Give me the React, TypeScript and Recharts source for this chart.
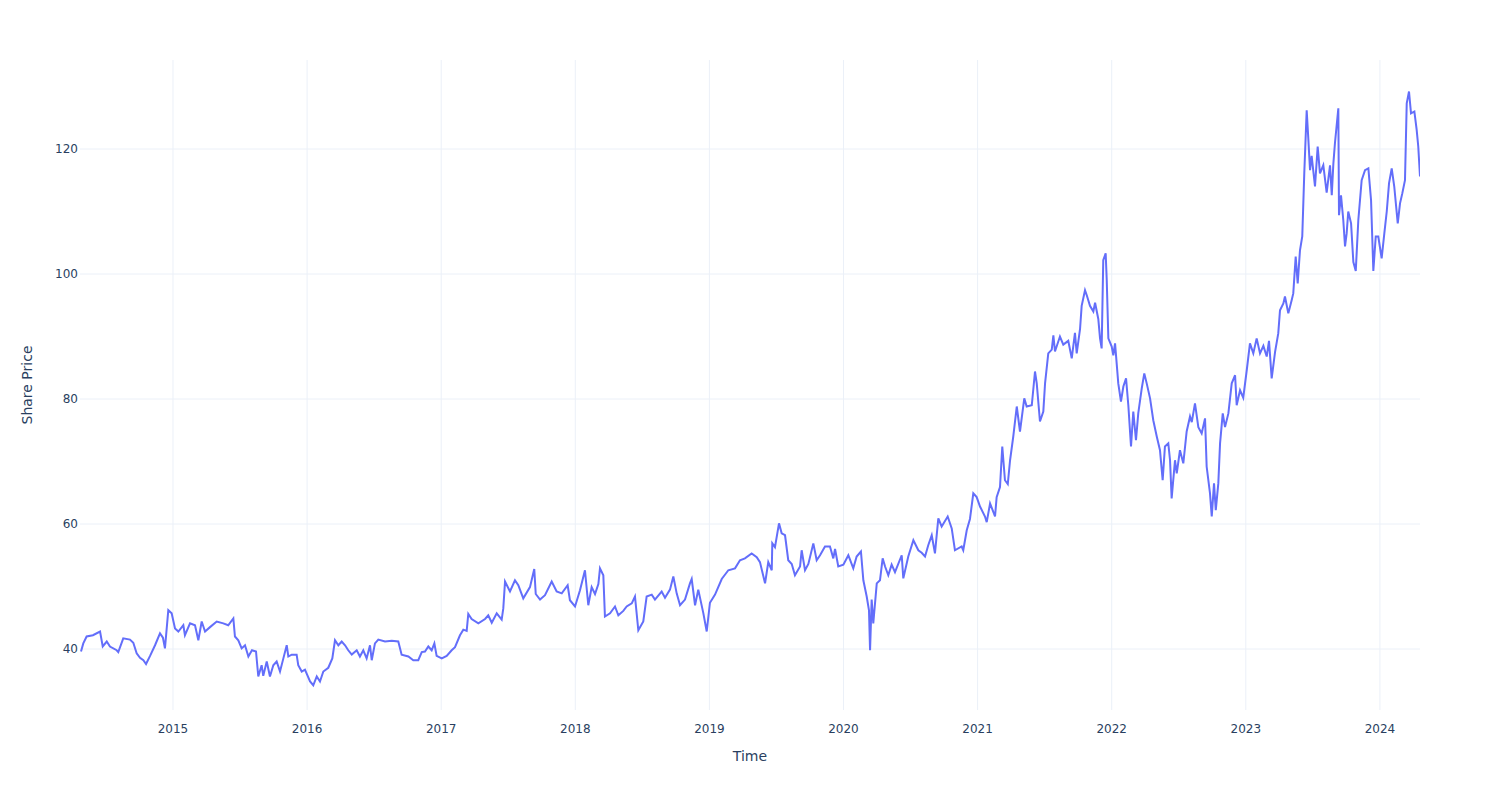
import React from "react";
import { LineChart, Line, XAxis, YAxis, CartesianGrid } from "recharts";

// Time in decimal years
const timeYears: number[] = [
  2014.314, 2014.331, 2014.356, 2014.403, 2014.456, 2014.476, 2014.506, 2014.530, 2014.580, 2014.592,
  2014.629, 2014.679, 2014.704, 2014.729, 2014.754, 2014.779, 2014.799, 2014.829, 2014.866, 2014.903,
  2014.925, 2014.940, 2014.965, 2014.990, 2015.015, 2015.040, 2015.077, 2015.089, 2015.127, 2015.164,
  2015.189, 2015.214, 2015.239, 2015.276, 2015.326, 2015.375, 2015.412, 2015.450, 2015.462, 2015.487,
  2015.512, 2015.537, 2015.562, 2015.589, 2015.619, 2015.636, 2015.661, 2015.673, 2015.699, 2015.723,
  2015.748, 2015.773, 2015.798, 2015.823, 2015.848, 2015.860, 2015.885, 2015.922, 2015.934, 2015.960,
  2015.984, 2016.022, 2016.046, 2016.072, 2016.096, 2016.121, 2016.158, 2016.188, 2016.208, 2016.233,
  2016.258, 2016.283, 2016.307, 2016.333, 2016.370, 2016.394, 2016.419, 2016.444, 2016.469, 2016.482,
  2016.506, 2016.531, 2016.581, 2016.631, 2016.680, 2016.705, 2016.755, 2016.792, 2016.829, 2016.855,
  2016.879, 2016.904, 2016.929, 2016.949, 2016.966, 2017.004, 2017.041, 2017.078, 2017.103, 2017.140,
  2017.165, 2017.190, 2017.202, 2017.227, 2017.277, 2017.327, 2017.351, 2017.377, 2017.414, 2017.451,
  2017.463, 2017.476, 2017.513, 2017.550, 2017.575, 2017.612, 2017.662, 2017.694, 2017.705, 2017.737,
  2017.774, 2017.824, 2017.861, 2017.899, 2017.943, 2017.960, 2017.998, 2018.035, 2018.072, 2018.097,
  2018.122, 2018.147, 2018.172, 2018.184, 2018.209, 2018.221, 2018.259, 2018.296, 2018.321, 2018.358,
  2018.383, 2018.421, 2018.445, 2018.470, 2018.507, 2018.532, 2018.570, 2018.594, 2018.644, 2018.669,
  2018.706, 2018.731, 2018.756, 2018.781, 2018.818, 2018.855, 2018.868, 2018.893, 2018.917, 2018.955,
  2018.980, 2019.004, 2019.042, 2019.092, 2019.141, 2019.191, 2019.228, 2019.265, 2019.315, 2019.353,
  2019.377, 2019.415, 2019.439, 2019.465, 2019.469, 2019.489, 2019.519, 2019.539, 2019.564, 2019.588,
  2019.614, 2019.638, 2019.676, 2019.688, 2019.713, 2019.738, 2019.775, 2019.800, 2019.825, 2019.862,
  2019.899, 2019.924, 2019.937, 2019.961, 2019.999, 2020.036, 2020.073, 2020.098, 2020.130, 2020.148,
  2020.173, 2020.190, 2020.198, 2020.210, 2020.222, 2020.248, 2020.272, 2020.292, 2020.310, 2020.334,
  2020.359, 2020.384, 2020.434, 2020.446, 2020.483, 2020.521, 2020.558, 2020.583, 2020.608, 2020.632,
  2020.658, 2020.682, 2020.707, 2020.732, 2020.777, 2020.807, 2020.831, 2020.881, 2020.893, 2020.919,
  2020.943, 2020.968, 2020.993, 2021.018, 2021.055, 2021.068, 2021.093, 2021.130, 2021.142, 2021.167,
  2021.184, 2021.204, 2021.225, 2021.242, 2021.266, 2021.292, 2021.316, 2021.348, 2021.366, 2021.404,
  2021.428, 2021.441, 2021.465, 2021.490, 2021.503, 2021.527, 2021.553, 2021.565, 2021.577, 2021.614,
  2021.639, 2021.676, 2021.702, 2021.726, 2021.739, 2021.764, 2021.776, 2021.801, 2021.814, 2021.838,
  2021.863, 2021.876, 2021.900, 2021.913, 2021.925, 2021.937, 2021.955, 2021.963, 2021.975, 2022.000,
  2022.012, 2022.025, 2022.049, 2022.069, 2022.087, 2022.107, 2022.124, 2022.136, 2022.144, 2022.161,
  2022.181, 2022.198, 2022.224, 2022.243, 2022.261, 2022.286, 2022.310, 2022.336, 2022.360, 2022.380,
  2022.397, 2022.422, 2022.435, 2022.447, 2022.472, 2022.485, 2022.509, 2022.534, 2022.559, 2022.584,
  2022.597, 2022.621, 2022.646, 2022.671, 2022.696, 2022.708, 2022.733, 2022.746, 2022.763, 2022.776,
  2022.795, 2022.808, 2022.828, 2022.845, 2022.870, 2022.895, 2022.920, 2022.932, 2022.957, 2022.981,
  2023.007, 2023.031, 2023.056, 2023.081, 2023.106, 2023.131, 2023.156, 2023.173, 2023.193, 2023.218,
  2023.242, 2023.255, 2023.280, 2023.292, 2023.317, 2023.342, 2023.354, 2023.372, 2023.387, 2023.404,
  2023.421, 2023.436, 2023.454, 2023.466, 2023.479, 2023.491, 2023.516, 2023.536, 2023.553, 2023.578,
  2023.603, 2023.628, 2023.641, 2023.653, 2023.665, 2023.690, 2023.695, 2023.710, 2023.727, 2023.740,
  2023.752, 2023.764, 2023.785, 2023.802, 2023.820, 2023.839, 2023.864, 2023.889, 2023.914, 2023.934,
  2023.951, 2023.969, 2023.988, 2024.013, 2024.033, 2024.051, 2024.068, 2024.088, 2024.107, 2024.133,
  2024.150, 2024.167, 2024.187, 2024.200, 2024.217, 2024.232, 2024.257, 2024.274, 2024.286, 2024.299,
];

// Share price values
const sharePrice: number[] = [
  39.6, 40.9, 42.0, 42.2, 42.8, 40.4, 41.2, 40.4, 39.8, 39.5,
  41.7, 41.5, 41.0, 39.3, 38.6, 38.2, 37.6, 38.9, 40.6, 42.5,
  41.8, 40.1, 46.2, 45.7, 43.3, 42.8, 43.8, 42.2, 44.1, 43.8,
  41.4, 44.4, 42.8, 43.5, 44.4, 44.1, 43.8, 44.9, 42.0, 41.4,
  40.1, 40.6, 38.8, 39.8, 39.6, 35.6, 37.4, 35.7, 38.0, 35.6,
  37.4, 38.0, 36.4, 38.5, 40.6, 38.8, 39.1, 39.1, 37.4, 36.4,
  36.7, 34.8, 34.2, 35.6, 34.8, 36.4, 37.0, 38.5, 41.4, 40.6,
  41.2, 40.6, 39.8, 39.1, 39.8, 38.8, 39.8, 38.5, 40.6, 38.2,
  40.9, 41.5, 41.2, 41.3, 41.2, 39.1, 38.8, 38.2, 38.2, 39.5,
  39.6, 40.4, 39.8, 40.9, 38.9, 38.5, 38.9, 39.8, 40.3, 42.2,
  43.1, 42.9, 45.6, 44.8, 44.1, 44.8, 45.4, 44.2, 45.7, 44.7,
  46.5, 50.8, 49.2, 51.0, 50.2, 48.1, 49.9, 52.8, 48.8, 47.9,
  48.6, 50.8, 49.2, 48.9, 50.2, 47.8, 46.8, 49.4, 52.6, 47.0,
  49.9, 48.8, 50.4, 52.9, 51.8, 45.2, 45.7, 46.8, 45.4, 46.1,
  46.8, 47.3, 48.4, 43.0, 44.4, 48.4, 48.7, 47.9, 49.2, 48.2,
  49.5, 51.6, 48.9, 47.0, 47.9, 50.5, 51.2, 47.0, 49.5, 45.7,
  42.8, 47.4, 48.7, 51.2, 52.6, 52.9, 54.2, 54.5, 55.3, 54.7,
  53.9, 50.5, 53.9, 52.6, 56.9, 56.3, 60.1, 58.5, 58.2, 54.2,
  53.6, 51.8, 53.2, 55.8, 52.6, 53.6, 56.9, 54.2, 55.0, 56.4,
  56.4, 54.5, 56.0, 53.2, 53.5, 55.0, 52.9, 54.8, 55.6, 51.0,
  48.4, 46.2, 39.8, 47.9, 44.1, 50.5, 51.0, 54.5, 53.2, 51.8,
  53.5, 52.3, 55.0, 51.3, 54.8, 57.4, 55.8, 55.4, 54.8, 56.6,
  58.2, 55.3, 60.9, 59.6, 61.2, 59.3, 55.8, 56.4, 55.8, 59.0,
  60.8, 64.9, 64.3, 62.8, 61.2, 60.3, 63.3, 61.2, 64.3, 65.9,
  72.4, 67.0, 66.4, 70.2, 74.0, 78.8, 74.8, 80.1, 78.8, 79.0,
  84.4, 82.5, 76.4, 78.0, 82.5, 87.3, 87.9, 90.2, 87.6, 90.0,
  88.7, 89.3, 86.5, 90.6, 87.3, 91.2, 94.9, 97.4, 96.6, 94.9,
  94.0, 95.4, 92.8, 89.7, 88.1, 102.2, 103.3, 99.0, 89.7, 88.4,
  87.0, 88.9, 82.5, 79.6, 82.0, 83.3, 79.0, 75.0, 72.4, 78.0,
  73.4, 77.7, 81.7, 84.1, 82.5, 80.1, 76.6, 74.0, 71.8, 67.0,
  72.4, 72.9, 70.2, 64.1, 70.2, 68.1, 71.8, 69.7, 74.8, 77.2,
  76.3, 79.3, 75.5, 74.5, 76.9, 69.2, 64.9, 61.2, 66.5, 62.2,
  66.5, 72.9, 77.7, 75.5, 77.7, 82.5, 83.8, 79.0, 81.4, 80.2,
  84.6, 88.9, 87.3, 89.7, 87.3, 88.5, 86.8, 89.3, 83.3, 87.5,
  90.5, 94.2, 95.3, 96.4, 93.7, 95.8, 96.9, 102.8, 98.5, 103.8,
  106.0, 116.1, 126.2, 121.7, 116.6, 118.9, 114.0, 120.4, 116.1, 117.4,
  113.0, 117.4, 112.6, 117.7, 121.0, 126.5, 109.4, 112.6, 108.6, 104.4,
  106.5, 110.0, 108.1, 101.9, 100.5, 108.6, 115.0, 116.6, 116.9, 111.8,
  100.5, 106.0, 106.0, 102.5, 106.5, 110.0, 114.5, 116.9, 114.0, 108.1,
  111.3, 112.9, 115.0, 127.3, 129.2, 125.7, 126.0, 123.1, 120.4, 115.6,
];

const yearTicks: number[] = [2015, 2016, 2017, 2018, 2019, 2020, 2021, 2022, 2023, 2024];
const priceTicks: number[] = [40, 60, 80, 100, 120];
const xDomain: [number, number] = [2014.3065, 2024.299];
const yDomain: [number, number] = [30.24, 134.24];

const data = timeYears.map((t, i) => ({ t, price: sharePrice[i] }));

const FONT = '"DejaVu Sans", Verdana, sans-serif';
const TEXT = "#2a3f5f";

// Grid lines placed at tick values, mapped linearly through the axis domains
const hGrid = (p: any) => {
  const o = p.offset;
  return priceTicks.map((v) => o.top + ((yDomain[1] - v) / (yDomain[1] - yDomain[0])) * o.height);
};
const vGrid = (p: any) => {
  const o = p.offset;
  return yearTicks.map((v) => o.left + ((v - xDomain[0]) / (xDomain[1] - xDomain[0])) * o.width);
};

export default function App() {
  return (
    <div style={{ position: "absolute", left: 0, top: 0, width: 1500, height: 800, background: "#fff" }}>
      <LineChart width={1500} height={800} data={data} margin={{ top: 60, right: 80, bottom: 0, left: 0 }}>
        <CartesianGrid
          stroke="#ebf0f8"
          strokeWidth={1}
          horizontalCoordinatesGenerator={hGrid}
          verticalCoordinatesGenerator={vGrid}
        />
        <XAxis
          type="number"
          dataKey="t"
          domain={xDomain}
          allowDataOverflow
          ticks={yearTicks}
          tickFormatter={(v: number) => String(Math.round(v))}
          height={90}
          axisLine={false}
          tickLine={false}
          tickSize={0}
          tickMargin={14}
          tick={{ fill: TEXT, fontSize: 12, fontFamily: FONT }}
          label={(props: any) => {
            const vb = props.viewBox || { x: 80, width: 1340 };
            return (
              <text x={vb.x + vb.width / 2} y={761} textAnchor="middle" fill={TEXT} fontSize={14} fontFamily={FONT}>
                Time
              </text>
            );
          }}
        />
        <YAxis
          type="number"
          domain={yDomain}
          allowDataOverflow
          ticks={priceTicks}
          width={80}
          axisLine={false}
          tickLine={false}
          tickSize={0}
          tickMargin={2}
          tick={{ fill: TEXT, fontSize: 12, fontFamily: FONT }}
          label={(props: any) => {
            const vb = props.viewBox || { y: 60, height: 650 };
            const cy = vb.y + vb.height / 2;
            return (
              <text x={32} y={cy} transform={`rotate(-90 32 ${cy})`} textAnchor="middle" fill={TEXT} fontSize={14} fontFamily={FONT}>
                Share Price
              </text>
            );
          }}
        />
        <Line
          type="linear"
          dataKey="price"
          stroke="#636efa"
          strokeWidth={2}
          dot={false}
          activeDot={false}
          isAnimationActive={false}
        />
      </LineChart>
    </div>
  );
}
